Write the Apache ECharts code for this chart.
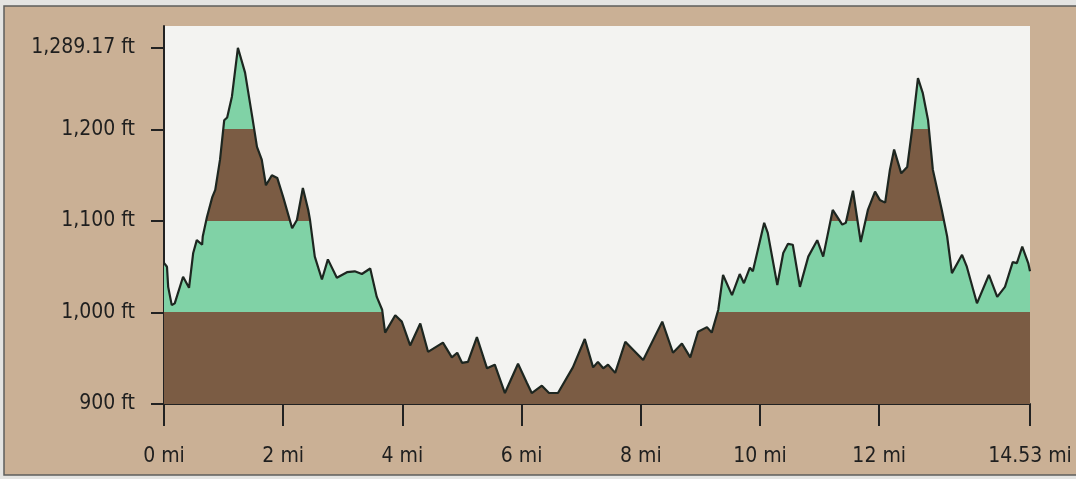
<!DOCTYPE html>
<html>
	<head>
		<meta charset="UTF-8">
		<title>Elevation profile</title>
		<style>html,body{margin:0;padding:0;background:#e4e4e2;}#charts{width:1076px;height:479px;}</style>
	</head>
	<body>
		<div id="charts"></div>
	</body>
	<script src="https://cdn.jsdelivr.net/npm/echarts@6/dist/echarts.min.js"></script>
	<script>
		var mycharts = echarts.init(document.getElementById('charts'))

		// distance along the trail (mi)
		var miles = [
			0, 0.05, 0.07, 0.13, 0.18, 0.32, 0.42, 0.49, 0.55, 0.64, 0.65, 0.72, 0.81, 0.86, 0.94,
			1.01, 1.06, 1.14, 1.24, 1.36, 1.48, 1.56, 1.64, 1.71, 1.81, 1.90, 2.00, 2.15, 2.23,
			2.33, 2.42, 2.45, 2.53, 2.65, 2.75, 2.90, 3.07, 3.20, 3.32, 3.46, 3.57, 3.66, 3.71,
			3.88, 3.99, 4.13, 4.30, 4.43, 4.68, 4.83, 4.92, 5.00, 5.10, 5.25, 5.42, 5.55, 5.72,
			5.94, 6.09, 6.17, 6.34, 6.46, 6.61, 6.86, 7.06, 7.20, 7.28, 7.37, 7.45, 7.57, 7.74,
			7.92, 8.04, 8.36, 8.54, 8.69, 8.83, 8.96, 9.11, 9.19, 9.30, 9.38, 9.53, 9.66, 9.73,
			9.83, 9.88, 10.07, 10.13, 10.29, 10.39, 10.47, 10.55, 10.67, 10.81, 10.96, 11.06,
			11.22, 11.38, 11.44, 11.56, 11.69, 11.81, 11.93, 12.01, 12.10, 12.18, 12.25, 12.37,
			12.47, 12.55, 12.65, 12.73, 12.82, 12.90, 13.05, 13.14, 13.22, 13.39, 13.47, 13.64,
			13.84, 13.98, 14.11, 14.24, 14.31, 14.40, 14.50, 14.53
		];
		// elevation (ft)
		var elevation = [
			1054, 1050, 1028, 1008, 1010, 1039, 1027, 1065, 1079, 1074, 1083, 1104, 1126, 1134, 1167,
			1210, 1213, 1236, 1289.17, 1262, 1214, 1181, 1167, 1139, 1150, 1147, 1126, 1092, 1101,
			1136, 1112, 1101, 1061, 1036, 1058, 1038, 1044, 1045, 1042, 1048, 1017, 1003, 978,
			997, 990, 964, 988, 957, 967, 951, 956, 945, 946, 973, 939, 943, 912,
			944, 923, 912, 920, 912, 912, 940, 971, 940, 946, 939, 943, 934, 968,
			956, 948, 990, 956, 966, 951, 979, 984, 978, 1003, 1041, 1019, 1042, 1032,
			1049, 1045, 1098, 1087, 1030, 1065, 1075, 1074, 1028, 1061, 1079, 1061,
			1112, 1096, 1098, 1133, 1077, 1112, 1132, 1123, 1120, 1156, 1178, 1152,
			1159, 1199, 1256, 1240, 1210, 1156, 1112, 1083, 1043, 1063, 1050, 1010,
			1041, 1017, 1028, 1055, 1054, 1072, 1054, 1045
		];
		// tick labels
		var xTicks = [0, 2, 4, 6, 8, 10, 12, 14.53];
		var yTicks = [900, 1000, 1100, 1200, 1289.17];

		var profile = [];
		for (var i = 0; i < miles.length; i++) {
			profile.push([miles[i], elevation[i]]);
		}

		var brown = '#7b5c44';
		var green = '#80d2a6';
		var labelFont = "'Liberation Sans Narrow', 'DejaVu Sans Condensed', sans-serif";

		option = {
			backgroundColor: '#e4e4e2',
			// tan frame round the plot
			graphic: [
				{
					type: 'rect',
					z: -10,
					shape: {x: 4, y: 6, width: 1080, height: 469},
					style: {fill: '#cab095', stroke: '#5e5e5c', lineWidth: 1.5}
				}
			],
			grid: {
				left: 164,
				right: 46,
				top: 26,
				bottom: 75,
				show: true,
				backgroundColor: '#f3f3f1',
				borderWidth: 0,
				outerBoundsMode: 'none'
			},
			xAxis: {
				type: 'value',
				min: 0,
				max: 14.53,
				splitLine: {show: false},
				axisLine: {show: true, onZero: false, lineStyle: {color: '#222', width: 2}},
				axisTick: {show: true, length: 22, customValues: xTicks, lineStyle: {color: '#222', width: 2}},
				axisLabel: {
					customValues: xTicks,
					margin: 42,
					color: '#1f1f1f',
					fontFamily: labelFont,
					fontSize: 21,
					formatter: function (v) { return v + ' mi'; }
				}
			},
			yAxis: {
				type: 'value',
				min: 900,
				max: 1313,
				splitLine: {show: false},
				axisLine: {show: true, lineStyle: {color: '#222', width: 2}},
				axisTick: {show: true, length: 13, customValues: yTicks, lineStyle: {color: '#222', width: 2}},
				axisLabel: {
					customValues: yTicks,
					margin: 29,
					color: '#1f1f1f',
					fontFamily: labelFont,
					fontSize: 21,
					formatter: function (v) {
						return v.toLocaleString('en-US', {maximumFractionDigits: 2}) + ' ft';
					}
				}
			},
			// colour bands by elevation
			visualMap: {
				type: 'piecewise',
				show: false,
				seriesIndex: 0,
				dimension: 1,
				pieces: [
					{lt: 1000, color: brown},
					{gte: 1000, lt: 1100, color: green},
					{gte: 1100, lt: 1200, color: brown},
					{gte: 1200, color: green}
				]
			},
			series: [
				{
					type: 'line',
					data: profile,
					symbol: 'none',
					silent: true,
					lineStyle: {width: 0},
					areaStyle: {opacity: 1, origin: 'start'}
				},
				{
					type: 'line',
					data: profile,
					symbol: 'none',
					silent: true,
					lineStyle: {color: '#1d2620', width: 2.2}
				}
			]
		}
		mycharts.setOption(option);
	</script>
</html>
